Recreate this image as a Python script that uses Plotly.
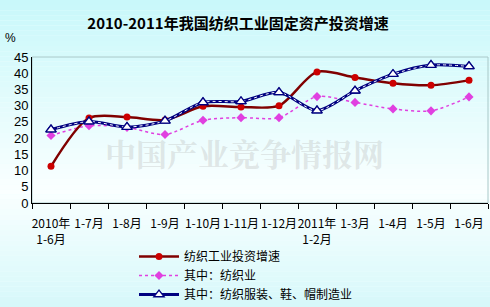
import plotly.graph_objects as go

categories = ["2010年<br>1-6月", "1-7月", "1-8月", "1-9月", "1-10月", "1-11月", "1-12月",
              "2011年<br>1-2月", "1-3月", "1-4月", "1-5月", "1-6月"]
textile_industry = [11.3, 26.2, 26.5, 25.6, 29.8, 29.6, 30.0, 40.4, 38.7, 36.9, 36.3, 37.8]
textile = [20.8, 23.8, 23.3, 21.1, 25.5, 26.3, 26.3, 32.8, 31.0, 29.0, 28.4, 32.7]
garment = [22.6, 25.1, 23.4, 25.3, 31.0, 31.3, 34.1, 28.5, 34.6, 39.7, 42.5, 42.1]
y_ticks = [0, 5, 10, 15, 20, 25, 30, 35, 40, 45]

W, H = 490, 307
L, R, T, B = 32, 2, 57, 104
PW, PH = W - L - R, H - T - B

fig = go.Figure()

fig.add_trace(go.Scatter(x=categories, y=textile, mode="lines+markers", name="其中：纺织业",
                         legendrank=2,
                         line=dict(color="#E040E0", width=1.5, dash="dot", shape="spline", smoothing=0.8),
                         marker=dict(symbol="diamond", size=7, color="#E040E0")))
fig.add_trace(go.Scatter(x=categories, y=textile_industry, mode="lines+markers", name="纺织工业投资增速",
                         legendrank=1,
                         line=dict(color="#800000", width=2.5, shape="spline", smoothing=0.8),
                         marker=dict(symbol="circle", size=7, color="#CC0000")))
# navy chain line: base with legend, white dots, then triangles on top
fig.add_trace(go.Scatter(x=categories, y=garment, mode="lines+markers", name="其中：纺织服装、鞋、帽制造业",
                         legendrank=3,
                         line=dict(color="#000080", width=3, shape="spline", smoothing=0.8),
                         marker=dict(symbol="triangle-up", size=9, color="white",
                                     line=dict(width=1.3, color="#000080"))))
fig.add_trace(go.Scatter(x=categories, y=garment, mode="lines", showlegend=False, hoverinfo="skip",
                         line=dict(color="white", width=1, dash="dot", shape="spline", smoothing=0.8)))
fig.add_trace(go.Scatter(x=categories, y=garment, mode="markers", showlegend=False, hoverinfo="skip",
                         marker=dict(symbol="triangle-up", size=9, color="white",
                                     line=dict(width=1.3, color="#000080"))))

# background gradient as stacked rectangles
def lerp(c1, c2, t):
    return "rgb(%d,%d,%d)" % tuple(round(a + (b - a) * t) for a, b in zip(c1, c2))

top = (200, 248, 250)
mid = (250, 255, 255)
bot = (214, 248, 250)
n = 60
shapes = []
for i in range(n):
    yc = (i + 0.5) / n  # from top
    if yc < 0.62:
        c = lerp(top, mid, yc / 0.62)
    else:
        c = lerp(mid, bot, (yc - 0.62) / 0.38)
    py0 = H * (1 - (i + 1) / n)
    py1 = H * (1 - i / n)
    shapes.append(dict(type="rect", xref="paper", yref="paper", layer="below",
                       x0=-L / PW, x1=1 + R / PW,
                       y0=(py0 - B) / PH, y1=(py1 - B) / PH,
                       fillcolor=c, line=dict(width=0)))
shapes.append(dict(type="rect", xref="paper", yref="paper", x0=0, x1=1, y0=0, y1=1,
                   line=dict(color="#A8C8C8", width=1), layer="below"))

fig.update_layout(
    width=W, height=H,
    margin=dict(l=L, r=R, t=T, b=B, autoexpand=False),
    paper_bgcolor="#F0FFFF",
    plot_bgcolor="rgba(0,0,0,0)",
    shapes=shapes,
    showlegend=True,
    legend=dict(xref="container", yref="container", x=134 / W, y=1 - 242 / H,
                xanchor="left", yanchor="top", bgcolor="rgba(0,0,0,0)",
                font=dict(family="Noto Sans CJK SC", size=12, color="black"),
                tracegroupgap=0, itemwidth=40, traceorder="normal"),
    font=dict(family="Noto Sans CJK SC", color="black"),
    title=dict(text="<b>2010-2011年我国纺织工业固定资产投资增速</b>", x=238 / W, xanchor="center",
               y=1 - 24 / H, yanchor="middle", font=dict(size=15, color="black")),
    xaxis=dict(type="category", tickmode="array", tickvals=categories, ticktext=categories,
               tickson="boundaries", ticks="outside", ticklen=5, tickcolor="black",
               showline=True, linecolor="black", linewidth=1, showgrid=False,
               tickfont=dict(size=12, family="Noto Sans CJK SC"), tickangle=0,
               ticklabelstandoff=10,
               range=[-0.5, 11.5], zeroline=False),
    yaxis=dict(range=[0, 45], tickvals=y_ticks, ticks="", showline=True, linecolor="black",
               linewidth=1, showgrid=False, zeroline=False,
               tickfont=dict(size=13, family="Liberation Sans Narrow, Liberation Sans")),
    annotations=[
        dict(text="%", xref="paper", yref="paper", x=-L / PW + 3 / PW, xanchor="left",
             y=1 + 19 / PH, yanchor="middle", showarrow=False,
             font=dict(size=12, family="Liberation Sans")),
        dict(text="<b>中国产业竞争情报网</b>", xref="paper", yref="paper", x=(244 - L) / PW, y=(H - B - 152) / PH,
             xanchor="center", yanchor="middle", showarrow=False,
             font=dict(size=31, family="Noto Serif CJK SC, Noto Sans CJK SC", color="rgba(175,175,175,0.3)")),
    ],
)

fig.write_html("out.html")
